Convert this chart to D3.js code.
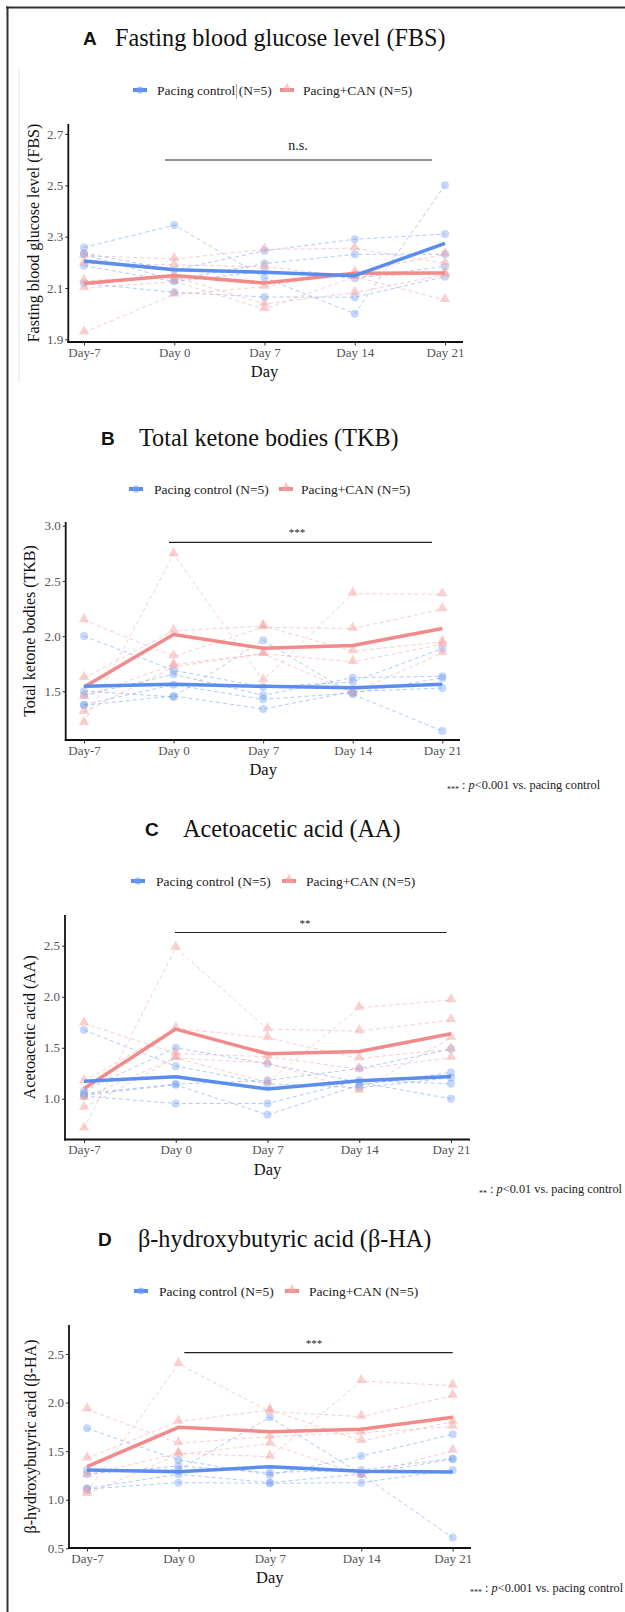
<!DOCTYPE html>
<html><head><meta charset="utf-8">
<script src="https://cdn.jsdelivr.net/npm/d3@7"></script>
<style>
body{margin:0;background:#fff}
svg{display:block}
text{font-family:"Liberation Serif","Times New Roman",serif}
</style>
</head><body><script>
// ---------------- DATA ----------------
const days = ["Day-7","Day 0","Day 7","Day 14","Day 21"];
const groups = ["Pacing control (N=5)","Pacing+CAN (N=5)"];

// A: Fasting blood glucose
const fbsTicks = [1.9, 2.1, 2.3, 2.5, 2.7];
const fbsControl = [
  [2.258, 2.345, 2.14, 2.0, 2.5],
  [2.235, 2.17, 2.245, 2.29, 2.31],
  [2.231, 2.131, 2.195, 2.231, 2.232],
  [2.187, 2.125, 2.165, 2.138, 2.184],
  [2.118, 2.083, 2.065, 2.064, 2.144]
];
const fbsCan = [
  [1.927, 2.075, 2.105, 2.161, 2.232],
  [2.226, 2.213, 2.25, 2.255, 2.196],
  [2.196, 2.19, 2.183, 2.143, 2.157],
  [2.128, 2.144, 2.038, 2.082, 2.152],
  [2.099, 2.125, 2.018, 2.144, 2.053]
];
const fbsControlMean = [2.205, 2.171, 2.161, 2.148, 2.274];
const fbsCanMean = [2.117, 2.149, 2.119, 2.157, 2.158];

// B: Total ketone bodies
const tkbTicks = [1.5, 2.0, 2.5, 3.0];
const tkbControl = [
  [2.0, 1.69, 1.54, 1.585, 1.887],
  [1.503, 1.449, 1.962, 1.473, 1.14],
  [1.464, 1.654, 1.464, 1.624, 1.636],
  [1.379, 1.56, 1.427, 1.485, 1.621],
  [1.373, 1.458, 1.34, 1.498, 1.53]
];
const tkbCan = [
  [1.213, 2.742, 1.6, 2.385, 2.379],
  [2.144, 1.817, 2.08, 2.068, 2.243],
  [1.621, 2.047, 2.092, 1.863, 1.947],
  [1.449, 1.742, 1.841, 1.766, 1.926],
  [1.313, 1.722, 1.84, 1.488, 1.847]
];
const tkbControlMean = [1.545, 1.563, 1.545, 1.533, 1.563];
const tkbCanMean = [1.539, 2.014, 1.890, 1.914, 2.068];

// C: Acetoacetic acid
const aaTicks = [1.0, 1.5, 2.0, 2.5];
const aaControl = [
  [1.673, 1.32, 1.147, 1.108, 1.206],
  [1.078, 1.5, 1.343, 1.161, 1.0],
  [1.052, 1.144, 1.18, 1.297, 1.487],
  [1.036, 1.137, 0.843, 1.134, 1.258],
  [1.026, 0.954, 0.954, 1.18, 1.147]
];
const aaCan = [
  [0.709, 2.48, 1.683, 1.663, 1.771],
  [1.739, 1.444, 1.412, 1.291, 1.402],
  [1.173, 1.69, 1.598, 1.395, 1.487],
  [1.01, 1.402, 1.16, 1.892, 1.967],
  [0.912, 1.40, 1.35, 1.079, 1.598]
];
const aaControlMean = [1.173, 1.216, 1.095, 1.176, 1.219];
const aaCanMean = [1.101, 1.683, 1.441, 1.464, 1.637];

// D: beta-hydroxybutyric acid
const bhaTicks = [0.5, 1.0, 1.5, 2.0, 2.5];
const bhaControl = [
  [1.735, 1.409, 1.255, 1.45, 1.673],
  [1.306, 1.306, 1.848, 1.263, 0.61],
  [1.265, 1.347, 1.279, 1.306, 1.425],
  [1.117, 1.262, 1.176, 1.265, 1.416],
  [1.11, 1.176, 1.169, 1.176, 1.306]
];
const bhaCan = [
  [1.083, 2.397, 1.907, 1.855, 2.071],
  [1.931, 1.581, 1.649, 1.69, 1.752],
  [1.426, 1.804, 1.924, 1.605, 1.804],
  [1.255, 1.478, 1.443, 2.222, 2.174],
  [1.059, 1.465, 1.577, 1.253, 1.505]
];
const bhaControlMean = [1.306, 1.289, 1.340, 1.292, 1.286];
const bhaCanMean = [1.340, 1.745, 1.700, 1.725, 1.848];

// ---------------- STYLE ----------------
const SERIF = "'Liberation Serif','Times New Roman',serif";
const BLUE = "#5b8def", PINK = "#f28a8a";
const BLUE_PT = "#6f9cf2", PINK_PT = "#f5a3a3";

const svg = d3.select("body").append("svg").attr("width", 625).attr("height", 1612);

// outer frame (top + left)
svg.append("line").attr("x1", 6).attr("x2", 625).attr("y1", 7.5).attr("y2", 7.5).attr("stroke", "#333").attr("stroke-width", 2);
svg.append("line").attr("x1", 7.5).attr("x2", 7.5).attr("y1", 6.5).attr("y2", 1612).attr("stroke", "#333").attr("stroke-width", 2);
// faint image edge in panel A
svg.append("line").attr("x1", 19).attr("x2", 19).attr("y1", 69).attr("y2", 382).attr("stroke", "#ececec").attr("stroke-width", 1.5);

const panels = [
  {letter: "A", title: "Fasting blood glucose level (FBS)", ylab: "Fasting blood glucose level (FBS)",
   control: fbsControl, can: fbsCan, cMean: fbsControlMean, pMean: fbsCanMean, ticks: fbsTicks,
   titleY: 37, letterX: 83, titleX: 115, legY: 90, leg: [133, 157, 280, 303],
   ax: 68.3, x0: 84, x1: 445, axEnd: 463, yTop: 124, yBot: 342, yT0: 339.3, yT1: 134,
   ylabX: 33, sig: "n.s.", sigX: 298, sigY: 145, sigLineY: 160, sigL0: 165, sigL1: 432, foot: null, cursor: true},
  {letter: "B", title: "Total ketone bodies (TKB)", ylab: "Total ketone bodies (TKB)",
   control: tkbControl, can: tkbCan, cMean: tkbControlMean, pMean: tkbCanMean, ticks: tkbTicks,
   titleY: 437, letterX: 101, titleX: 139, legY: 489, leg: [129, 154, 279, 301],
   ax: 65.7, x0: 84, x1: 442.3, axEnd: 460, yTop: 522, yBot: 740, yT0: 691.3, yT1: 525.7,
   ylabX: 29, sig: "***", sigX: 297, sigY: 530, sigLineY: 542.3, sigL0: 169, sigL1: 432,
   foot: {stars: "***", p: "<0.001 vs. pacing control", x: 447, y: 789}},
  {letter: "C", title: "Acetoacetic acid (AA)", ylab: "Acetoacetic acid (AA)",
   control: aaControl, can: aaCan, cMean: aaControlMean, pMean: aaCanMean, ticks: aaTicks,
   titleY: 828, letterX: 145, titleX: 183, legY: 881, leg: [131, 156, 282, 306],
   ax: 65, x0: 84, x1: 451, axEnd: 470, yTop: 915, yBot: 1139.5, yT0: 1098.8, yT1: 945.7,
   ylabX: 29, sig: "**", sigX: 305, sigY: 921, sigLineY: 932.5, sigL0: 175, sigL1: 446.7,
   foot: {stars: "**", p: "<0.01 vs. pacing control", x: 479, y: 1193}},
  {letter: "D", title: "β-hydroxybutyric acid (β-HA)", ylab: "β-hydroxybutyric acid (β-HA)",
   control: bhaControl, can: bhaCan, cMean: bhaControlMean, pMean: bhaCanMean, ticks: bhaTicks,
   titleY: 1238, letterX: 98, titleX: 138, legY: 1291, leg: [134, 159, 285, 309],
   ax: 69, x0: 87, x1: 452.7, axEnd: 471, yTop: 1325, yBot: 1548, yT0: 1548.3, yT1: 1354,
   ylabX: 30, sig: "***", sigX: 314, sigY: 1341, sigLineY: 1352.7, sigL0: 184.3, sigL1: 452.7,
   foot: {stars: "***", p: "<0.001 vs. pacing control", x: 470, y: 1592}}
];

const tri = d3.symbol().type(d3.symbolTriangle).size(48);

function legendKey(g, x, y, color, ptColor, shape) {
  g.append("line").attr("x1", x).attr("x2", x + 14).attr("y1", y).attr("y2", y)
    .attr("stroke", color).attr("stroke-width", 4);
  if (shape === "circle") {
    g.append("circle").attr("cx", x + 7).attr("cy", y).attr("r", 3.5).attr("fill", ptColor).attr("opacity", 0.6);
  } else {
    g.append("path").attr("d", tri).attr("transform", `translate(${x + 7},${y - 1})`).attr("fill", ptColor).attr("opacity", 0.6);
  }
}

panels.forEach(p => {
  const g = svg.append("g");
  // title
  g.append("text").attr("x", p.letterX).attr("y", p.titleY + 7.5)
    .style("font-family", "'Liberation Sans', Arial, sans-serif").style("font-weight", "bold")
    .style("font-size", "19px").attr("fill", "#111").text(p.letter);
  g.append("text").attr("x", p.titleX).attr("y", p.titleY + 8.5)
    .style("font-family", SERIF).style("font-size", "24.2px").attr("fill", "#111").text(p.title);

  // legend
  legendKey(g, p.leg[0], p.legY, BLUE, BLUE_PT, "circle");
  g.append("text").attr("x", p.leg[1]).attr("y", p.legY + 4.5).style("font-family", SERIF)
    .style("font-size", "13.5px").attr("fill", "#222").text(groups[0]);
  legendKey(g, p.leg[2], p.legY, PINK, PINK_PT, "tri");
  g.append("text").attr("x", p.leg[3]).attr("y", p.legY + 4.5).style("font-family", SERIF)
    .style("font-size", "13.5px").attr("fill", "#222").text(groups[1]);
  if (p.cursor) {
    g.append("line").attr("x1", 236.5).attr("x2", 236.5).attr("y1", 84).attr("y2", 99).attr("stroke", "#999").attr("stroke-width", 0.8);
  }

  // scales
  const x = d3.scalePoint().domain(days).range([p.x0, p.x1]);
  const y = d3.scaleLinear().domain([p.ticks[0], p.ticks[p.ticks.length - 1]]).range([p.yT0, p.yT1]);
  const line = d3.line().x((d, i) => x(days[i])).y(d => y(d));

  // individual dashed lines
  p.control.forEach(s => g.append("path").attr("d", line(s)).attr("fill", "none")
    .attr("stroke", BLUE_PT).attr("stroke-opacity", 0.55).attr("stroke-width", 1).attr("stroke-dasharray", "4,3"));
  p.can.forEach(s => g.append("path").attr("d", line(s)).attr("fill", "none")
    .attr("stroke", PINK_PT).attr("stroke-opacity", 0.55).attr("stroke-width", 1).attr("stroke-dasharray", "4,3"));
  // points
  p.control.forEach(s => s.forEach((v, i) => g.append("circle").attr("cx", x(days[i])).attr("cy", y(v))
    .attr("r", 4).attr("fill", BLUE_PT).attr("fill-opacity", 0.4)));
  p.can.forEach(s => s.forEach((v, i) => g.append("path").attr("d", tri)
    .attr("transform", `translate(${x(days[i])},${y(v) - 1})`).attr("fill", PINK_PT).attr("fill-opacity", 0.5)));

  // mean lines
  g.append("path").attr("d", line(p.pMean)).attr("fill", "none").attr("stroke", PINK).attr("stroke-width", 3.5).attr("stroke-linejoin", "round");
  g.append("path").attr("d", line(p.cMean)).attr("fill", "none").attr("stroke", BLUE).attr("stroke-width", 3.5).attr("stroke-linejoin", "round");

  // axes
  const yAxis = g.append("g").attr("transform", `translate(${p.ax},0)`)
    .call(d3.axisLeft(y).tickValues(p.ticks).tickFormat(d3.format(".1f")).tickSize(3).tickPadding(2));
  yAxis.select(".domain").remove();
  yAxis.selectAll("line").attr("stroke", "#333").attr("stroke-width", 1);
  yAxis.selectAll("text").style("font-family", SERIF).style("font-size", "13px").attr("fill", "#555");

  const xAxis = g.append("g").attr("transform", `translate(0,${p.yBot})`)
    .call(d3.axisBottom(x).tickSize(3.5).tickPadding(2));
  xAxis.select(".domain").remove();
  xAxis.selectAll("line").attr("stroke", "#333").attr("stroke-width", 1);
  xAxis.selectAll("text").style("font-family", SERIF).style("font-size", "13px").attr("fill", "#555");

  g.append("line").attr("x1", p.ax).attr("x2", p.ax).attr("y1", p.yTop).attr("y2", p.yBot + 1)
    .attr("stroke", "#111").attr("stroke-width", 1.8);
  g.append("line").attr("x1", p.ax - 0.9).attr("x2", p.axEnd).attr("y1", p.yBot).attr("y2", p.yBot)
    .attr("stroke", "#111").attr("stroke-width", 1.8);

  // axis titles
  g.append("text").attr("x", (p.x0 + p.x1) / 2).attr("y", p.yBot + 35)
    .attr("text-anchor", "middle").style("font-family", SERIF).style("font-size", "16.5px").attr("fill", "#111").text("Day");
  g.append("text").attr("transform", `translate(${p.ylabX},${(p.yTop + p.yBot) / 2}) rotate(-90)`)
    .attr("text-anchor", "middle").attr("dominant-baseline", "central")
    .style("font-family", SERIF).style("font-size", "16px").attr("fill", "#111").text(p.ylab);

  // significance bar
  g.append("line").attr("x1", p.sigL0).attr("x2", p.sigL1).attr("y1", p.sigLineY).attr("y2", p.sigLineY)
    .attr("stroke", "#222").attr("stroke-width", 1.2);
  g.append("text").attr("x", p.sigX).attr("y", p.sig === "n.s." ? p.sigY + 5 : p.sigY + 6)
    .attr("text-anchor", "middle").style("font-family", SERIF)
    .style("font-size", p.sig === "n.s." ? "14px" : "11px").attr("fill", "#222").text(p.sig);

  // footnote
  if (p.foot) {
    const t = g.append("text").attr("x", p.foot.x).attr("y", p.foot.y).style("font-family", SERIF)
      .style("font-size", "12.3px").attr("fill", "#222");
    t.append("tspan").style("font-size", "8px").attr("dy", 3).text(p.foot.stars);
    t.append("tspan").attr("dy", -3).text(" : ");
    t.append("tspan").style("font-style", "italic").text("p");
    t.append("tspan").text(p.foot.p);
  }
});
</script></body></html>
